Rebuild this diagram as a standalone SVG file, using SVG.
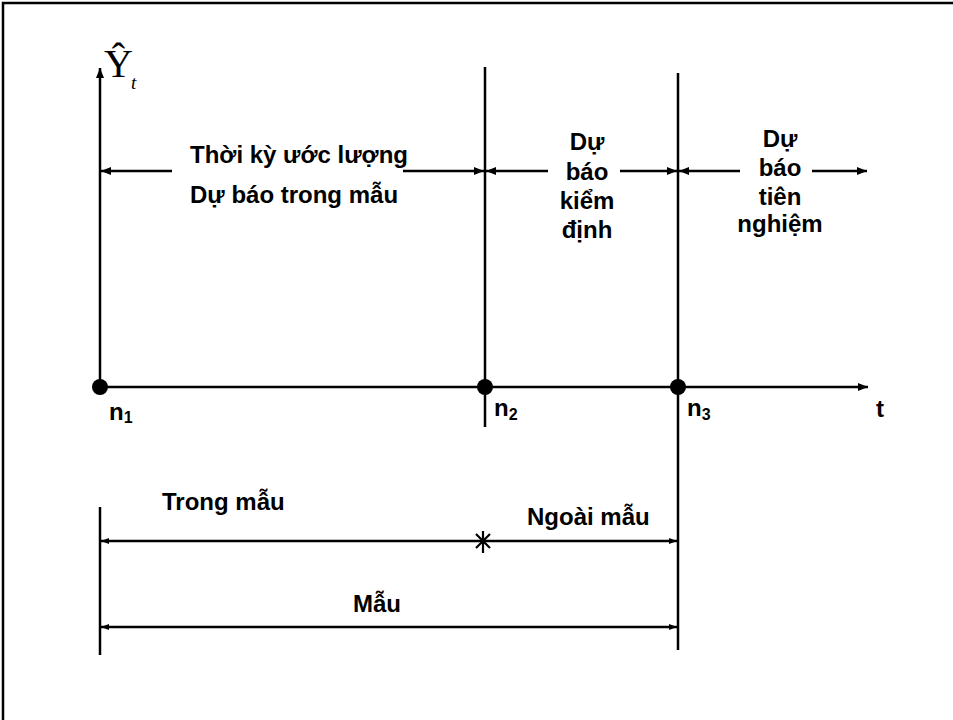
<svg xmlns="http://www.w3.org/2000/svg" width="953" height="720" viewBox="0 0 953 720">
<defs>
<style>
.ln{stroke:#000;stroke-width:2.5;fill:none}
.ar{stroke:#000;stroke-width:2.5;fill:none}
.lb{font-family:"Liberation Sans",Arial,sans-serif;font-weight:bold;font-size:24px;fill:#000}
.c{text-anchor:middle}
.sub{font-size:16px}
.dot{fill:#000}
</style>
<marker id="ah" viewBox="0 0 10 8" refX="10" refY="4" markerWidth="10" markerHeight="8" markerUnits="userSpaceOnUse" orient="auto">
<path d="M0,0 L10,4 L0,8 Z" fill="#000"/>
</marker>
<marker id="ahs" viewBox="0 0 8 6" refX="8" refY="3" markerWidth="8" markerHeight="6" markerUnits="userSpaceOnUse" orient="auto">
<path d="M0,0 L8,3 L0,6 Z" fill="#000"/>
</marker>
</defs>
<rect width="953" height="720" fill="#fff"/>
<path d="M3,720 V3 H953" stroke="#000" stroke-width="2.5" fill="none"/>

<g id="connectors">
<line class="ln" x1="100" y1="387" x2="100" y2="68" marker-end="url(#ah)"/>
<line class="ln" x1="100" y1="387" x2="868" y2="387" marker-end="url(#ah)"/>
<line class="ln" x1="485" y1="67" x2="485" y2="427"/>
<line class="ln" x1="678" y1="73" x2="678" y2="650"/>
<line class="ln" x1="100" y1="507" x2="100" y2="655"/>
<line class="ar" x1="172" y1="171" x2="101" y2="171" marker-end="url(#ah)"/>
<line class="ar" x1="403" y1="171" x2="484" y2="171" marker-end="url(#ah)"/>
<line class="ar" x1="548" y1="171" x2="486" y2="171" marker-end="url(#ah)"/>
<line class="ar" x1="620" y1="171" x2="677" y2="171" marker-end="url(#ah)"/>
<line class="ar" x1="740" y1="171" x2="679" y2="171" marker-end="url(#ah)"/>
<line class="ar" x1="812" y1="171" x2="867" y2="171" marker-end="url(#ah)"/>
<line class="ar" x1="390" y1="541" x2="101" y2="541" marker-end="url(#ahs)"/>
<line class="ar" x1="390" y1="541" x2="677" y2="541" marker-end="url(#ahs)"/>
<line class="ar" x1="390" y1="627" x2="101" y2="627" marker-end="url(#ahs)"/>
<line class="ar" x1="390" y1="627" x2="677" y2="627" marker-end="url(#ahs)"/>
<path d="M483,531 V553 M476,534 L490,548 M490,534 L476,548" stroke="#000" stroke-width="2.2" fill="none"/>
</g>

<g id="axis-label">
<text font-family="'Liberation Serif','Times New Roman',serif" font-size="40" x="104" y="77">Ŷ<tspan x="131" y="89" font-size="19" font-style="italic">t</tspan></text>
</g>

<g id="node-n1">
<circle class="dot" cx="100" cy="387" r="8"/>
<text class="lb" x="109" y="420">n<tspan class="sub" dy="3">1</tspan></text>
</g>
<g id="node-n2">
<circle class="dot" cx="485" cy="387" r="8"/>
<text class="lb" x="494" y="416">n<tspan class="sub" dy="4">2</tspan></text>
</g>
<g id="node-n3">
<circle class="dot" cx="678" cy="387" r="8"/>
<text class="lb" x="687" y="416">n<tspan class="sub" dy="4">3</tspan></text>
</g>
<g id="label-t">
<text class="lb" x="876" y="417">t</text>
</g>

<g id="period-estimation">
<text class="lb" x="190" y="163">Thời kỳ ước lượng</text>
<text class="lb" x="190" y="203">Dự báo trong mẫu</text>
</g>
<g id="period-validation">
<text class="lb c" x="587" y="150">Dự</text>
<text class="lb c" x="587" y="180">báo</text>
<text class="lb c" x="587" y="209">kiểm</text>
<text class="lb c" x="587" y="238">định</text>
</g>
<g id="period-ex-ante">
<text class="lb c" x="780" y="147">Dự</text>
<text class="lb c" x="780" y="176">báo</text>
<text class="lb c" x="780" y="205">tiên</text>
<text class="lb c" x="780" y="232">nghiệm</text>
</g>

<g id="sample-labels">
<text class="lb" x="162" y="510">Trong mẫu</text>
<text class="lb" x="527" y="525">Ngoài mẫu</text>
<text class="lb c" x="377" y="612">Mẫu</text>
</g>
</svg>
